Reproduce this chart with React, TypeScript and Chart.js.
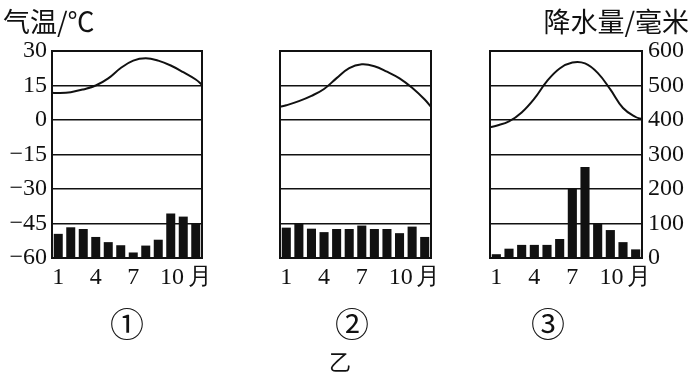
import React, { useEffect, useRef } from 'react';
import { Chart, registerables } from 'chart.js';
Chart.register(...registerables);

const months = [1, 2, 3, 4, 5, 6, 7, 8, 9, 10, 11, 12];
// temperature curve sampled at the plot edges (0.5, 12.5) and at each month
const tempX = [0.5, 1, 2, 3, 4, 5, 6, 7, 8, 9, 10, 11, 12, 12.5];
const temp1 = [11.8, 11.7, 12.1, 13.3, 15, 18.1, 22.6, 25.8, 26.8, 25.8, 23.7, 20.8, 17.6, 15.3];
const temp2 = [5.7, 6.4, 8.2, 10.5, 13.5, 18.2, 22.6, 24.2, 23.4, 21, 18.1, 14, 8.9, 5.7];
const temp3 = [-3.2, -2.5, -0.6, 3.3, 9.3, 16.9, 22.4, 25, 24.6, 20.5, 13.3, 5.2, 1.3, 0.4];
const precip1 = [70, 89, 84, 61, 46, 37, 16, 36, 53, 129, 120, 101];
const precip2 = [88, 100, 85, 75, 84, 84, 94, 84, 84, 72, 91, 61];
const precip3 = [11, 27, 38, 38, 38, 55, 202, 264, 100, 81, 46, 25];
const tempTicks = [-60, -45, -30, -15, 0, 15, 30];
const precipTicks = [0, 100, 200, 300, 400, 500, 600];
const xTickPos = [1, 4, 7, 10.1, 12.3];
const xTickLabels = ['1', '4', '7', '10', '月'];

const W = 697;
const H = 375;
const INK = '#111';
const SERIF = '"Liberation Serif", "DejaVu Serif", serif';
const tickFont = { family: SERIF, size: 24 };

const framePlugin = {
  id: 'frame',
  afterDatasetsDraw(chart: any) {
    const { ctx, chartArea: a } = chart;
    ctx.save();
    ctx.strokeStyle = INK;
    ctx.lineWidth = 2;
    ctx.strokeRect(a.left, a.top, a.right - a.left, a.bottom - a.top);
    ctx.restore();
  },
};

type PanelProps = {
  temp: number[];
  precip: number[];
  padLeft: number;
  padRight: number;
  showLeft: boolean;
  showRight: boolean;
};

function Panel({ temp, precip, padLeft, padRight, showLeft, showRight }: PanelProps) {
  const ref = useRef<HTMLCanvasElement | null>(null);
  useEffect(() => {
    if (!ref.current) return;
    const chart = new Chart(ref.current, {
      type: 'bar',
      data: {
        datasets: [
          {
            type: 'line',
            data: tempX.map((x, i) => ({ x, y: temp[i] })),
            yAxisID: 'y',
            borderColor: INK,
            borderWidth: 2,
            pointRadius: 0,
            tension: 0.4,
            order: 0,
          } as any,
          {
            type: 'bar',
            data: months.map((m, i) => ({ x: m, y: precip[i] })),
            yAxisID: 'y1',
            backgroundColor: INK,
            barPercentage: 0.72,
            categoryPercentage: 1,
            order: 1,
          } as any,
        ],
      },
      options: {
        responsive: false,
        animation: false,
        layout: { autoPadding: false, padding: { left: padLeft, right: padRight, top: 51, bottom: 87 } },
        plugins: { legend: { display: false }, tooltip: { enabled: false } },
        scales: {
          x: {
            type: 'linear',
            offset: false,
            min: 0.5,
            max: 12.5,
            grid: { display: false, drawTicks: false, offset: false },
            border: { display: false },
            afterBuildTicks: (s: any) => {
              s.ticks = xTickPos.map((v) => ({ value: v }));
            },
            afterFit: (s: any) => {
              s.height = 30;
              s.paddingLeft = 0;
              s.paddingRight = 0;
            },
            ticks: {
              autoSkip: false,
              maxRotation: 0,
              padding: 5,
              color: INK,
              font: tickFont,
              callback: (_v: any, i: number) => xTickLabels[i],
            },
          },
          y: {
            position: 'left',
            min: -60,
            max: 30,
            afterBuildTicks: (s: any) => {
              s.ticks = tempTicks.map((v) => ({ value: v }));
            },
            afterFit: (s: any) => {
              s.width = showLeft ? 52 : 0;
            },
            grid: { color: INK, lineWidth: 1.5, drawTicks: false },
            border: { display: false },
            ticks: {
              display: showLeft,
              padding: 5,
              color: INK,
              font: tickFont,
              callback: (v: any) => String(v).replace('-', '−'),
            },
          },
          y1: {
            position: 'right',
            display: showRight,
            min: 0,
            max: 600,
            afterBuildTicks: (s: any) => {
              s.ticks = precipTicks.map((v) => ({ value: v }));
            },
            afterFit: (s: any) => {
              s.width = showRight ? 55 : 0;
            },
            grid: { display: false, drawTicks: false },
            border: { display: false },
            ticks: { padding: 6, color: INK, font: tickFont },
          },
        },
      } as any,
      plugins: [framePlugin],
    });
    let alive = true;
    if ((document as any).fonts && (document as any).fonts.load) {
      (document as any).fonts
        .load('24px "Liberation Serif"')
        .then(() => {
          if (alive) chart.update();
        })
        .catch(() => {});
    }
    return () => {
      alive = false;
      chart.destroy();
    };
  }, []);
  return (
    <canvas
      ref={ref}
      width={W}
      height={H}
      style={{ position: 'absolute', left: 0, top: 0, width: W, height: H, pointerEvents: 'none' }}
    />
  );
}

const cjk = '"Noto Sans CJK SC", "Noto Sans", sans-serif';

function Label({ x, y, text, size, anchor }: { x: number; y: number; text: string; size: number; anchor: 'left' | 'center' | 'right' }) {
  const tx = anchor === 'left' ? '0' : anchor === 'center' ? '-50%' : '-100%';
  return (
    <div
      style={{
        position: 'absolute',
        left: x,
        top: y,
        transform: `translate(${tx}, -50%)`,
        fontFamily: cjk,
        fontSize: size,
        lineHeight: 1,
        color: INK,
        whiteSpace: 'nowrap',
      }}
    >
      {text}
    </div>
  );
}

export default function App() {
  useEffect(() => {
    document.body.style.margin = '0';
  }, []);
  return (
    <div style={{ position: 'relative', width: W, height: H, overflow: 'hidden', background: '#fff' }}>
      <span style={{ position: 'absolute', left: -100, top: -100, fontFamily: SERIF, fontSize: 24 }}>0</span>
      <Panel temp={temp1} precip={precip1} padLeft={0} padRight={W - 202} showLeft={true} showRight={false} />
      <Panel temp={temp2} precip={precip2} padLeft={280} padRight={W - 431} showLeft={false} showRight={false} />
      <Panel temp={temp3} precip={precip3} padLeft={490} padRight={W - 642 - 55} showLeft={false} showRight={true} />
      <Label x={3} y={20} text="气温/℃" size={27} anchor="left" />
      <Label x={689} y={20} text="降水量/毫米" size={27} anchor="right" />
      <Label x={127} y={323} text="①" size={34} anchor="center" />
      <Label x={352} y={323} text="②" size={34} anchor="center" />
      <Label x={548} y={323} text="③" size={34} anchor="center" />
      <Label x={340} y={360} text="乙" size={22} anchor="center" />
    </div>
  );
}
